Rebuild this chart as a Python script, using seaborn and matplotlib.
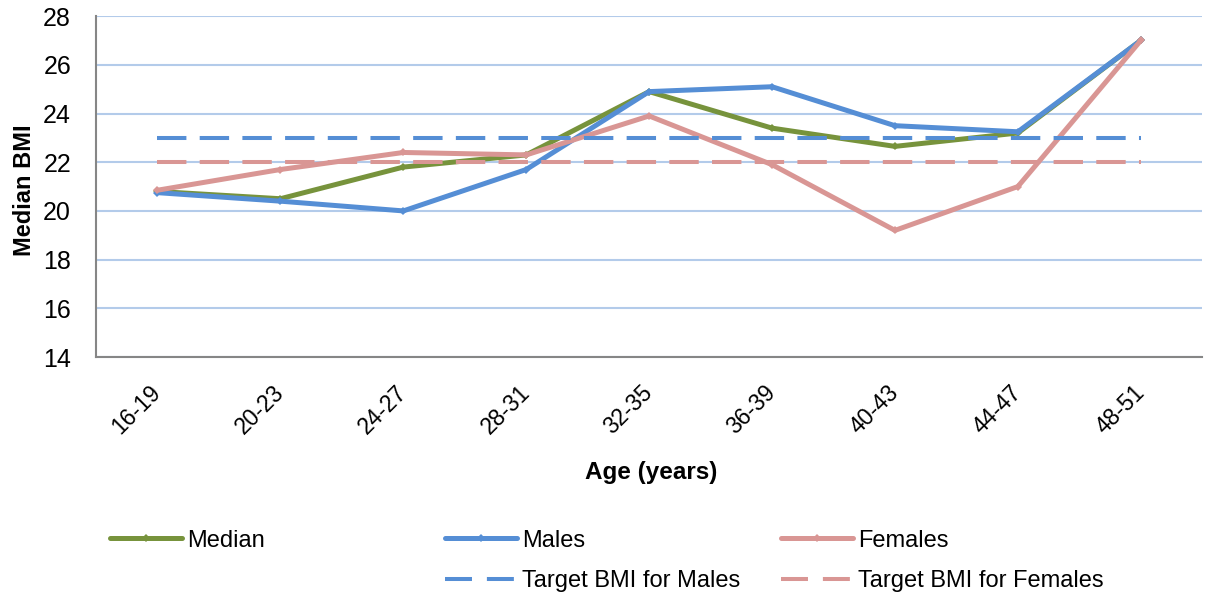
import matplotlib
matplotlib.use("Agg")
import matplotlib.pyplot as plt
import seaborn as sns
from matplotlib.lines import Line2D

# Age bands and BMI values
age_groups = ["16-19", "20-23", "24-27", "28-31", "32-35", "36-39", "40-43", "44-47", "48-51"]
median_bmi = [20.8, 20.5, 21.8, 22.3, 24.9, 23.4, 22.65, 23.2, 27.0]
males_bmi = [20.75, 20.4, 20.0, 21.7, 24.9, 25.1, 23.5, 23.25, 27.0]
females_bmi = [20.85, 21.7, 22.4, 22.3, 23.9, 21.9, 19.2, 21.0, 27.0]
target_males = 23
target_females = 22

y_ticks = [14, 16, 18, 20, 22, 24, 26, 28]

GREEN = "#77933C"
BLUE = "#558ED5"
PINK = "#D99694"
GRID = "#B3CBEA"
AXIS = "#868686"

sns.set_theme(style="white")
plt.rcParams["font.family"] = ["Liberation Sans", "DejaVu Sans"]
plt.rcParams["text.color"] = "black"

fig = plt.figure(figsize=(12.05, 5.97), dpi=100)
ax = fig.add_axes([0.0797, 0.402, 0.918, 0.571])

x_pos = list(range(len(age_groups)))

solid_kw = dict(linewidth=3.6, marker="D", markersize=4.5, markeredgewidth=0, ax=ax)
sns.lineplot(x=x_pos, y=median_bmi, color=GREEN, zorder=3, **solid_kw)
sns.lineplot(x=x_pos, y=males_bmi, color=BLUE, zorder=4, **solid_kw)
sns.lineplot(x=x_pos, y=females_bmi, color=PINK, zorder=5, **solid_kw)

DASH = (7.3, 3.3)
dash_kw = dict(linewidth=2.9, ax=ax)
ln_m = sns.lineplot(x=x_pos, y=[target_males] * len(x_pos), color=BLUE, zorder=6, **dash_kw).lines[-1]
ln_m.set_dashes(DASH)
ln_f = sns.lineplot(x=x_pos, y=[target_females] * len(x_pos), color=PINK, zorder=6, **dash_kw).lines[-1]
ln_f.set_dashes(DASH)

ax.set_xlim(-0.5, len(age_groups) - 0.5)
ax.set_ylim(14, 28)
ax.set_yticks(y_ticks)
ax.set_yticklabels([str(v) for v in y_ticks], fontsize=18, color="black")
ax.yaxis.grid(True, color=GRID, linewidth=1.5)
ax.xaxis.grid(False)
ax.set_axisbelow(True)

ax.set_xticks(x_pos)
ax.set_xticklabels(age_groups, rotation=45, ha="right", va="center",
                   rotation_mode="anchor", fontsize=16.5, color="black")
ax.set_xticks([i - 0.5 for i in range(len(age_groups) + 1)], minor=True)
ax.tick_params(axis="x", which="major", length=0, pad=23)
ax.tick_params(axis="x", which="minor", length=6, width=1.5, color=AXIS, direction="out")
ax.tick_params(axis="y", which="major", length=6, width=1.5, color=AXIS, direction="out", pad=12)

for side in ["top", "right"]:
    ax.spines[side].set_visible(False)
for side in ["left", "bottom"]:
    ax.spines[side].set_color(AXIS)
    ax.spines[side].set_linewidth(1.5)

ax.set_xlabel("Age (years)", fontsize=17.5, fontweight="bold", color="black")
ax.set_ylabel("Median BMI", fontsize=17, fontweight="bold", color="black")
ax.xaxis.set_label_coords(0.502, -0.305)
ax.yaxis.set_label_coords(-0.0545, 0.49)

# Legend, laid out in three columns
def solid(c):
    return Line2D([], [], color=c, linewidth=3.6, marker="D", markersize=4, markeredgewidth=0)

def dashed(c):
    return Line2D([], [], color=c, linewidth=2.9, dashes=(6.7, 3.7))

blank = Line2D([], [], color="none")
leg_kw = dict(frameon=False, fontsize=17, handlelength=3.05, handletextpad=0.2,
              labelspacing=0.78, loc="upper left", borderpad=0, borderaxespad=0)
cols = [
    (0.0915, [solid(GREEN), blank], ["Median", " "]),
    (0.3695, [solid(BLUE), dashed(BLUE)], ["Males", "Target BMI for Males"]),
    (0.6485, [solid(PINK), dashed(PINK)], ["Females", "Target BMI for Females"]),
]
for x0, handles, labels in cols:
    fig.legend(handles, labels, bbox_to_anchor=(x0, 0.113), **leg_kw)

fig.savefig("out.png", dpi=100)
